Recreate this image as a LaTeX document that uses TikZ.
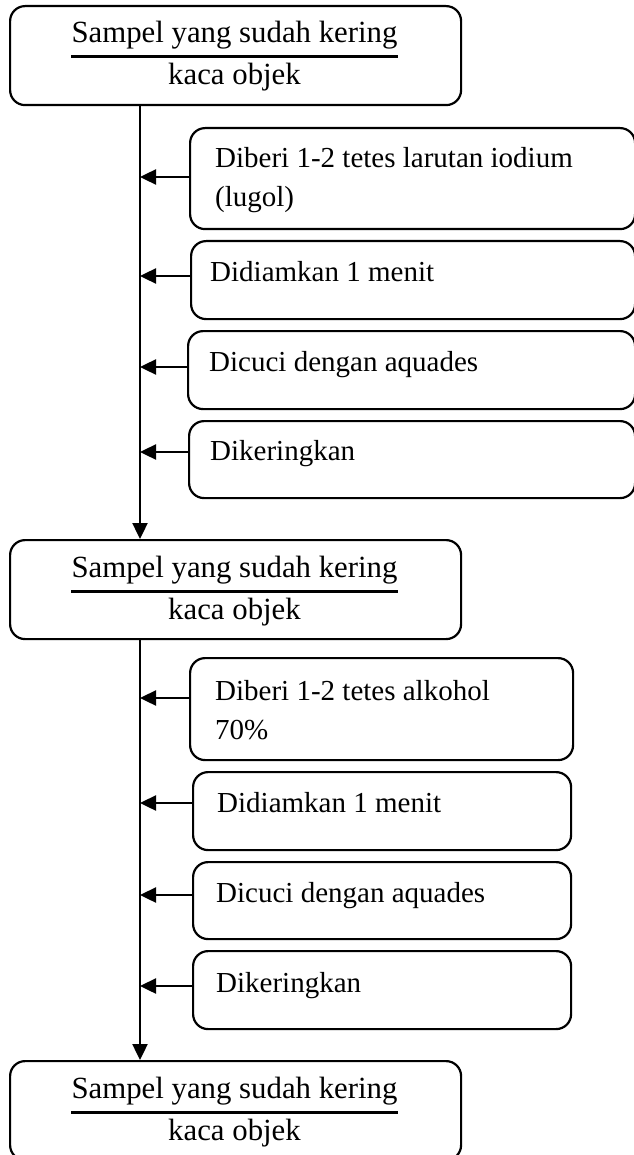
\documentclass[tikz,border=0pt]{standalone}
\usepackage{fontspec}
\setmainfont{Liberation Serif}
\usetikzlibrary{arrows.meta}
\begin{document}
\begin{tikzpicture}[x=1pt,y=-1pt,
  box/.style={draw, line width=2.2pt, rounded corners=15pt, anchor=north west, inner sep=0pt},
  mainbox/.style={box, minimum width=451pt, minimum height=99pt},
  steptxt/.style={anchor=base west, inner sep=0pt, font=\fontsize{29}{39}\selectfont},
  maintxt/.style={anchor=base, inner sep=0pt, font=\fontsize{30.8}{40}\selectfont},
  arr/.style={line width=2.4pt, -{Triangle[length=16pt,width=15pt]}},
  ul/.style={line width=3pt}]
\useasboundingbox (0,0) rectangle (633,1155);
\coordinate (spine) at (140,0);

% main boxes
\node[mainbox] (m1) at (9,5) {};
\node[mainbox] (m2) at (9,539) {};
\node[mainbox] (m3) at (9,1060) {};
\foreach \n/\t in {1/5, 2/539, 3/1060}{
  \node[maintxt] (h\n) at (234.5,\t+38) {Sampel yang sudah kering};
  \node[maintxt] (k\n) at (234.5,\t+80) {kaca objek};
  \draw[ul] ([yshift=-14pt]h\n.base west) -- ([yshift=-14pt]h\n.base east);
}

% group 1 step boxes
\node[box, minimum width=445pt, minimum height=101pt] (s1) at (189,127) {};
\node[box, minimum width=444pt, minimum height=78pt] (s2) at (190,240) {};
\node[box, minimum width=447pt, minimum height=78pt] (s3) at (187,330) {};
\node[box, minimum width=446pt, minimum height=77pt] (s4) at (188,420) {};
\node[steptxt] (s1t) at (215,168) {Diberi 1-2 tetes larutan iodium};
\node[steptxt] (s1u) at (215,207) {(lugol)};
\node[steptxt] (s2t) at (210,281) {Didiamkan 1 menit};
\node[steptxt] (s3t) at (209,371) {Dicuci dengan aquades};
\node[steptxt] (s4t) at (210,460) {Dikeringkan};

% group 2 step boxes
\node[box, minimum width=383pt, minimum height=102pt] (t1) at (189,657) {};
\node[box, minimum width=378pt, minimum height=78pt] (t2) at (192,771) {};
\node[box, minimum width=378pt, minimum height=77pt] (t3) at (192,861) {};
\node[box, minimum width=378pt, minimum height=78pt] (t4) at (192,950) {};
\node[steptxt] (t1t) at (215,700) {Diberi 1-2 tetes alkohol};
\node[steptxt] (t1u) at (215,739) {70\%};
\node[steptxt] (t2t) at (217,812) {Didiamkan 1 menit};
\node[steptxt] (t3t) at (216,902) {Dicuci dengan aquades};
\node[steptxt] (t4t) at (216,992) {Dikeringkan};

% spine arrows
\draw[arr] (m1.south -| spine) -- (m2.north -| spine);
\draw[arr] (m2.south -| spine) -- (m3.north -| spine);

% side arrows
\draw[arr] (s1.west |- 0,177) -- (spine |- 0,177);
\draw[arr] (s2.west |- 0,276) -- (spine |- 0,276);
\draw[arr] (s3.west |- 0,367) -- (spine |- 0,367);
\draw[arr] (s4.west |- 0,452) -- (spine |- 0,452);
\draw[arr] (t1.west |- 0,698) -- (spine |- 0,698);
\draw[arr] (t2.west |- 0,803) -- (spine |- 0,803);
\draw[arr] (t3.west |- 0,895) -- (spine |- 0,895);
\draw[arr] (t4.west |- 0,986) -- (spine |- 0,986);
\end{tikzpicture}
\end{document}
